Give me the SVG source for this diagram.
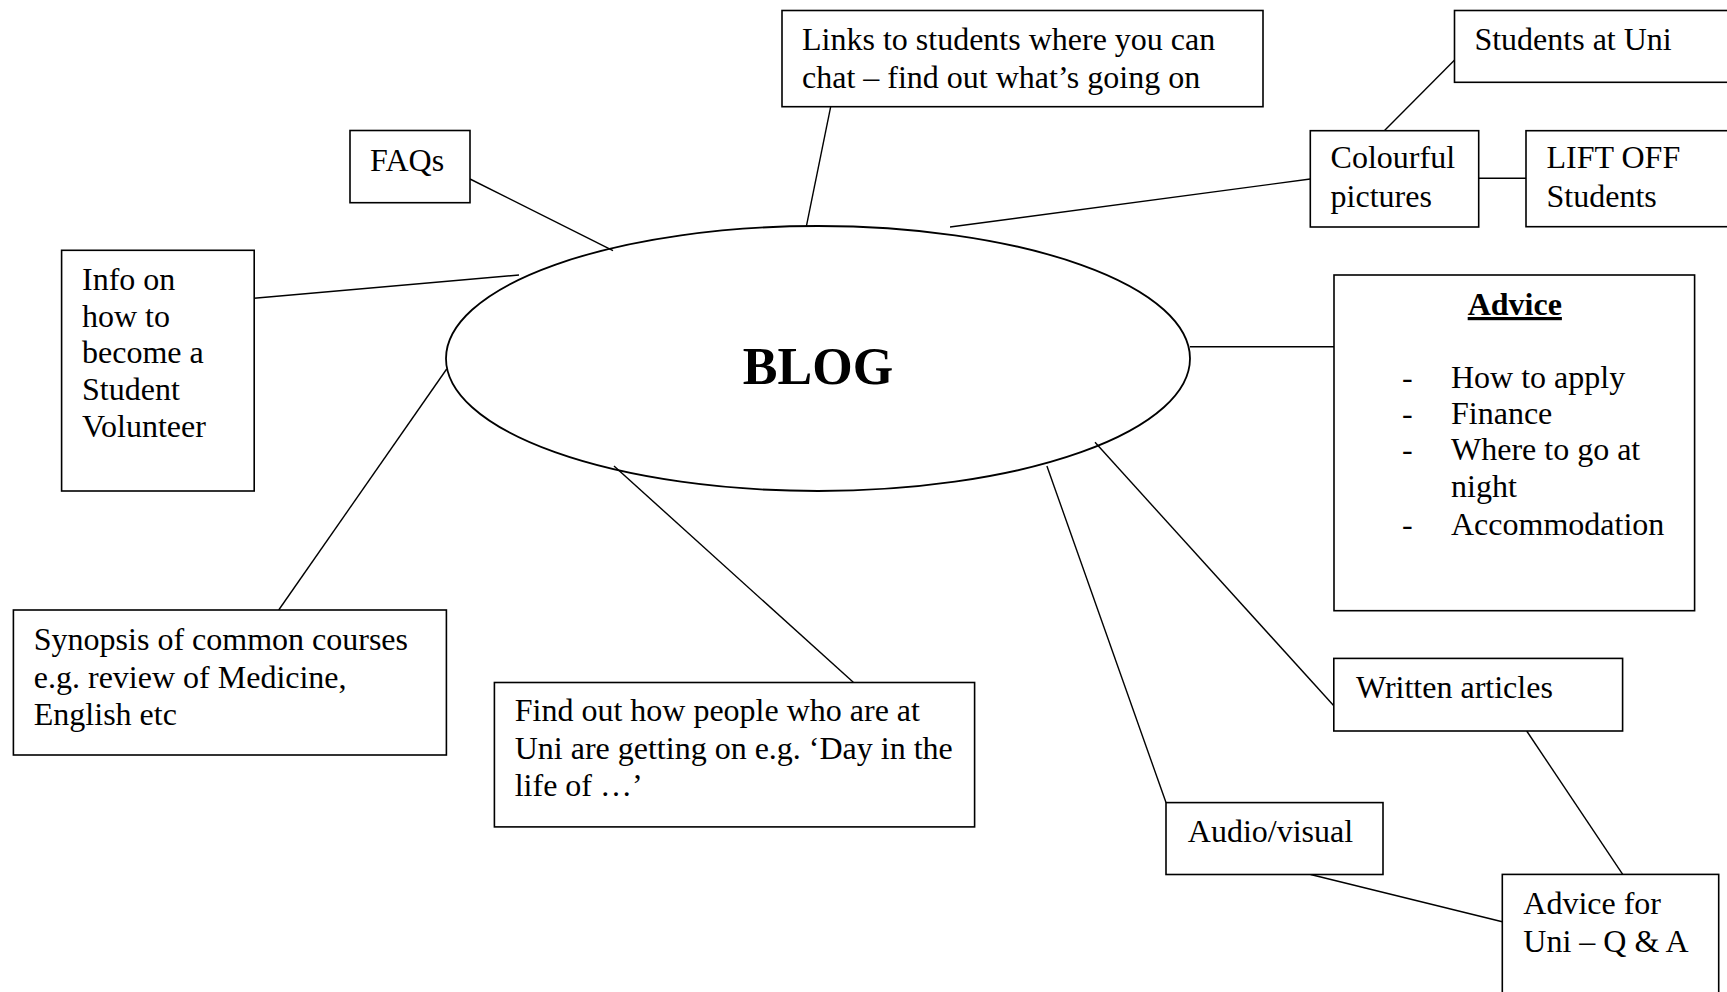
<svg xmlns="http://www.w3.org/2000/svg" width="1727" height="992" viewBox="0 0 1727 992">
<style>
.box{fill:#fff;stroke:#000;stroke-width:1.6}
.ln{stroke:#000;stroke-width:1.4;fill:none}
text{font-family:"Liberation Serif","Times New Roman",serif;font-size:32px;fill:#000}
.b{font-weight:bold}
</style>
<rect width="1727" height="992" fill="#fff"/>
<g id="connectors">
<line class="ln" x1="470" y1="179" x2="613" y2="250.7"/>
<line class="ln" x1="254" y1="298.3" x2="519" y2="275"/>
<line class="ln" x1="830.7" y1="106.7" x2="806.3" y2="226.7"/>
<line class="ln" x1="1310.3" y1="179" x2="950" y2="227"/>
<line class="ln" x1="1384.3" y1="130.7" x2="1454.6" y2="60"/>
<line class="ln" x1="1478.7" y1="178.3" x2="1526" y2="178.3"/>
<line class="ln" x1="1190" y1="346.7" x2="1334" y2="346.7"/>
<line class="ln" x1="446.7" y1="369" x2="278.7" y2="610"/>
<line class="ln" x1="614" y1="466" x2="853.3" y2="682.3"/>
<line class="ln" x1="1046.9" y1="466" x2="1166" y2="802.6"/>
<line class="ln" x1="1095" y1="442.3" x2="1333.8" y2="705.8"/>
<line class="ln" x1="1526.7" y1="731" x2="1622.7" y2="874.3"/>
<line class="ln" x1="1310.6" y1="874.5" x2="1502.3" y2="921.7"/>
</g>
<g id="blog">
<ellipse cx="818" cy="358.5" rx="372" ry="132.5" fill="none" stroke="#000" stroke-width="1.8"/>
<text class="b" x="818" y="384" text-anchor="middle" style="font-size:52px">BLOG</text>
</g>
<g id="links">
<rect class="box" x="782" y="10.5" width="481" height="96.2"/>
<text x="802" y="50">Links to students where you can</text>
<text x="802" y="87.5">chat – find out what’s going on</text>
</g>
<g id="faqs">
<rect class="box" x="350" y="130.5" width="120" height="72.2"/>
<text x="370" y="171">FAQs</text>
</g>
<g id="info">
<rect class="box" x="61.6" y="250.3" width="192.6" height="240.7"/>
<text x="82" y="290">Info on</text>
<text x="82" y="326.7">how to</text>
<text x="82" y="363.3">become a</text>
<text x="82" y="400">Student</text>
<text x="82" y="437">Volunteer</text>
</g>
<g id="students">
<rect class="box" x="1454.5" y="10.5" width="290" height="71.8"/>
<text x="1474.4" y="50">Students at Uni</text>
</g>
<g id="colourful">
<rect class="box" x="1310.3" y="130.7" width="168.4" height="96.3"/>
<text x="1330.6" y="168.3">Colourful</text>
<text x="1330.6" y="206.7">pictures</text>
</g>
<g id="liftoff">
<rect class="box" x="1526" y="130.7" width="250" height="96"/>
<text x="1546.5" y="168.3">LIFT OFF</text>
<text x="1546.5" y="206.7">Students</text>
</g>
<g id="advice">
<rect class="box" x="1334" y="275" width="360.6" height="335.7"/>
<text class="b" x="1514.8" y="315" text-anchor="middle" text-decoration="underline">Advice</text>
<text x="1402" y="388.3">-</text><text x="1451" y="388.3">How to apply</text>
<text x="1402" y="424">-</text><text x="1451" y="424">Finance</text>
<text x="1402" y="460">-</text><text x="1451" y="460">Where to go at</text>
<text x="1451" y="496.5">night</text>
<text x="1402" y="534.5">-</text><text x="1451" y="534.5">Accommodation</text>
</g>
<g id="written">
<rect class="box" x="1333.8" y="658.4" width="288.8" height="72.6"/>
<text x="1356" y="698.2">Written articles</text>
</g>
<g id="audio">
<rect class="box" x="1166" y="802.6" width="217" height="71.9"/>
<text x="1187.8" y="842.3">Audio/visual</text>
</g>
<g id="advicefor">
<rect class="box" x="1502.3" y="874.4" width="216.4" height="150"/>
<text x="1523.3" y="914">Advice for</text>
<text x="1523.3" y="951.7">Uni – Q &amp; A</text>
</g>
<g id="synopsis">
<rect class="box" x="13.4" y="610" width="433" height="145"/>
<text x="33.8" y="649.8">Synopsis of common courses</text>
<text x="33.8" y="687.8">e.g. review of Medicine,</text>
<text x="33.8" y="724.8">English etc</text>
</g>
<g id="findout">
<rect class="box" x="494.4" y="682.5" width="480.2" height="144.4"/>
<text x="514.7" y="721.3">Find out how people who are at</text>
<text x="514.7" y="758.7">Uni are getting on e.g. ‘Day in the</text>
<text x="514.7" y="795.7">life of …’</text>
</g>
</svg>
